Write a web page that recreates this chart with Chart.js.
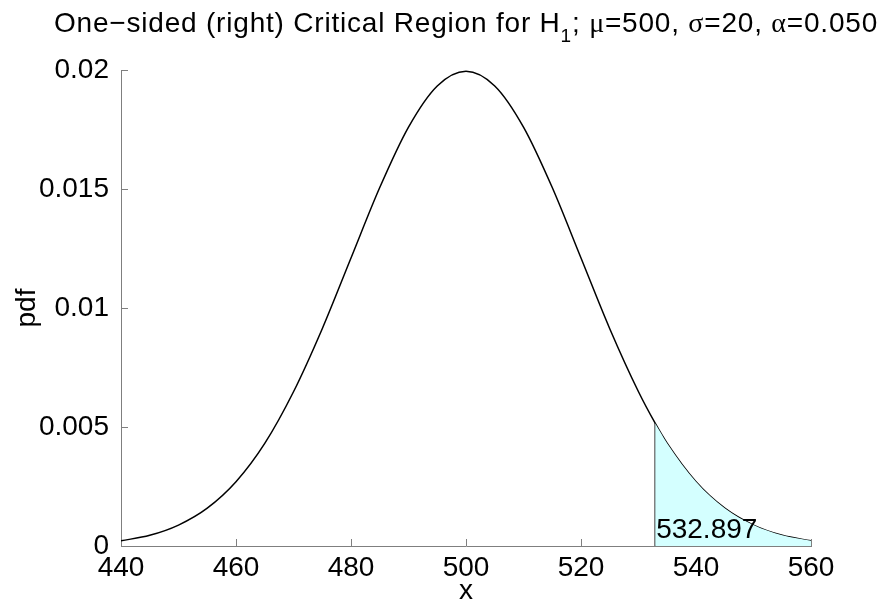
<!DOCTYPE html>
<html>
<head>
<meta charset="utf-8">
<title>Critical region</title>
<script src="https://cdn.jsdelivr.net/npm/chart.js@4"></script>
<style>
  html, body { margin: 0; padding: 0; background: #fff; }
  #wrap { width: 884px; height: 602px; }
</style>
</head>
<body>
<div id="wrap"><canvas id="myChart" width="884" height="602"></canvas></div>
<script>
// values
const xValues = [440, 445, 450, 455, 460, 465, 470, 475, 480, 485, 490, 495, 500,
  505, 510, 515, 520, 525, 530, 532.897, 535, 540, 545, 550, 555, 560];
const pdfValues = [0.00022, 0.00045, 0.00088, 0.00159, 0.0027, 0.00431, 0.00648, 0.00913,
  0.0121, 0.01506, 0.0176, 0.01933, 0.01995, 0.01933, 0.0176, 0.01506, 0.0121, 0.00913,
  0.00648, 0.00516, 0.00431, 0.0027, 0.00159, 0.00088, 0.00045, 0.00022];
const criticalValue = 532.897;
const criticalLabel = '532.897';
const xTicks = [440, 460, 480, 500, 520, 540, 560];
const yTicks = [0, 0.005, 0.01, 0.015, 0.02];
const yTickLabels = ['0', '0.005', '0.01', '0.015', '0.02'];

const SANS = '"Liberation Sans", Arial, Helvetica, sans-serif';
const SERIF = '"Liberation Serif", "Times New Roman", serif';
const axisGray = '#7f7f7f';

const curve = xValues.map((x, i) => ({ x: x, y: pdfValues[i] }));
const tail = curve.filter(p => p.x >= criticalValue);
const tailEnd = tail[tail.length - 1];
const tailEdges = [
  { x: tailEnd.x, y: tailEnd.y },
  { x: tailEnd.x, y: 0 },
  { x: criticalValue, y: 0 },
  { x: criticalValue, y: tail[0].y },
];

// inward tick marks, like the original plot
const innerTicks = {
  id: 'innerTicks',
  beforeDatasetsDraw(chart) {
    const { ctx, chartArea: a, scales: { x, y } } = chart;
    ctx.save();
    ctx.strokeStyle = axisGray;
    ctx.lineWidth = 1;
    ctx.beginPath();
    xTicks.forEach(v => {
      const px = Math.round(x.getPixelForValue(v)) + 0.5;
      ctx.moveTo(px, a.bottom);
      ctx.lineTo(px, a.bottom - 7);
    });
    yTicks.forEach(v => {
      const py = Math.round(y.getPixelForValue(v)) + 0.5;
      ctx.moveTo(a.left, py);
      ctx.lineTo(a.left + 7, py);
    });
    ctx.stroke();
    ctx.restore();
  }
};

// title with subscript and greek letters, axis titles, critical value label
const texts = {
  id: 'texts',
  afterDraw(chart) {
    const { ctx, chartArea: a, scales: { x, y } } = chart;
    ctx.save();
    ctx.fillStyle = '#000';

    const parts = [
      { t: 'One\u2212sided (right) Critical Region for H', f: '28px ' + SANS, dy: 0 },
      { t: '1', f: '19px ' + SANS, dy: 10 },
      { t: '; ', f: '28px ' + SANS, dy: 0 },
      { t: '\u03bc', f: '28px ' + SERIF, dy: 0 },
      { t: '=500, ', f: '28px ' + SANS, dy: 0 },
      { t: '\u03c3', f: '28px ' + SERIF, dy: 0 },
      { t: '=20, ', f: '28px ' + SANS, dy: 0 },
      { t: '\u03b1', f: '28px ' + SERIF, dy: 0 },
      { t: '=0.050', f: '28px ' + SANS, dy: 0 },
    ];
    ctx.letterSpacing = '0.8px';
    let total = 0;
    parts.forEach(p => { ctx.font = p.f; p.w = ctx.measureText(p.t).width; total += p.w; });
    let cx = (a.left + a.right) / 2 - total / 2;
    ctx.textBaseline = 'alphabetic';
    ctx.textAlign = 'left';
    parts.forEach(p => {
      ctx.font = p.f;
      ctx.fillText(p.t, cx, 32 + p.dy);
      cx += p.w;
    });
    ctx.letterSpacing = '0px';

    ctx.font = '28px ' + SANS;
    ctx.textAlign = 'center';
    ctx.fillText('x', (a.left + a.right) / 2, 599);

    ctx.save();
    ctx.translate(35, (a.top + a.bottom) / 2);
    ctx.rotate(-Math.PI / 2);
    ctx.fillText('pdf', 0, 0);
    ctx.restore();

    ctx.textAlign = 'left';
    ctx.fillText(criticalLabel, x.getPixelForValue(criticalValue) + 1, y.getPixelForValue(0) - 8);
    ctx.restore();
  }
};

new Chart(document.getElementById('myChart').getContext('2d'), {
  type: 'line',
  data: {
    datasets: [
      {
        label: 'critical region',
        data: tail,
        fill: 'origin',
        backgroundColor: '#d4ffff',
        borderWidth: 0,
        borderColor: 'rgba(0,0,0,0)',
        pointRadius: 0,
        cubicInterpolationMode: 'monotone',
      },
      {
        label: 'region edges',
        data: tailEdges,
        fill: false,
        borderColor: '#000',
        borderWidth: 1.3,
        pointRadius: 0,
        tension: 0,
      },
      {
        label: 'pdf',
        data: curve,
        fill: false,
        borderColor: '#000',
        borderWidth: 1.5,
        pointRadius: 0,
        cubicInterpolationMode: 'monotone',
      },
    ],
  },
  options: {
    responsive: false,
    animation: false,
    devicePixelRatio: 1,
    layout: { padding: { top: 70, right: 73, left: 0, bottom: 0 } },
    plugins: {
      legend: { display: false },
      tooltip: { enabled: false },
    },
    scales: {
      x: {
        type: 'linear',
        min: 440,
        max: 560,
        afterBuildTicks: s => { s.ticks = xTicks.map(v => ({ value: v })); },
        afterFit: s => { s.height = 56; },
        grid: { display: false },
        border: { display: true, color: axisGray, width: 1 },
        ticks: { color: '#000', font: { family: SANS, size: 28 }, padding: -3, maxRotation: 0 },
      },
      y: {
        type: 'linear',
        min: 0,
        max: 0.02,
        afterBuildTicks: s => { s.ticks = yTicks.map(v => ({ value: v })); },
        afterFit: s => { s.width = 121; },
        grid: { display: false },
        border: { display: true, color: axisGray, width: 1 },
        ticks: {
          color: '#000',
          font: { family: SANS, size: 28 },
          padding: 4,
          callback: (v) => yTickLabels[yTicks.indexOf(v)],
        },
      },
    },
  },
  plugins: [innerTicks, texts],
});
</script>
</body>
</html>
